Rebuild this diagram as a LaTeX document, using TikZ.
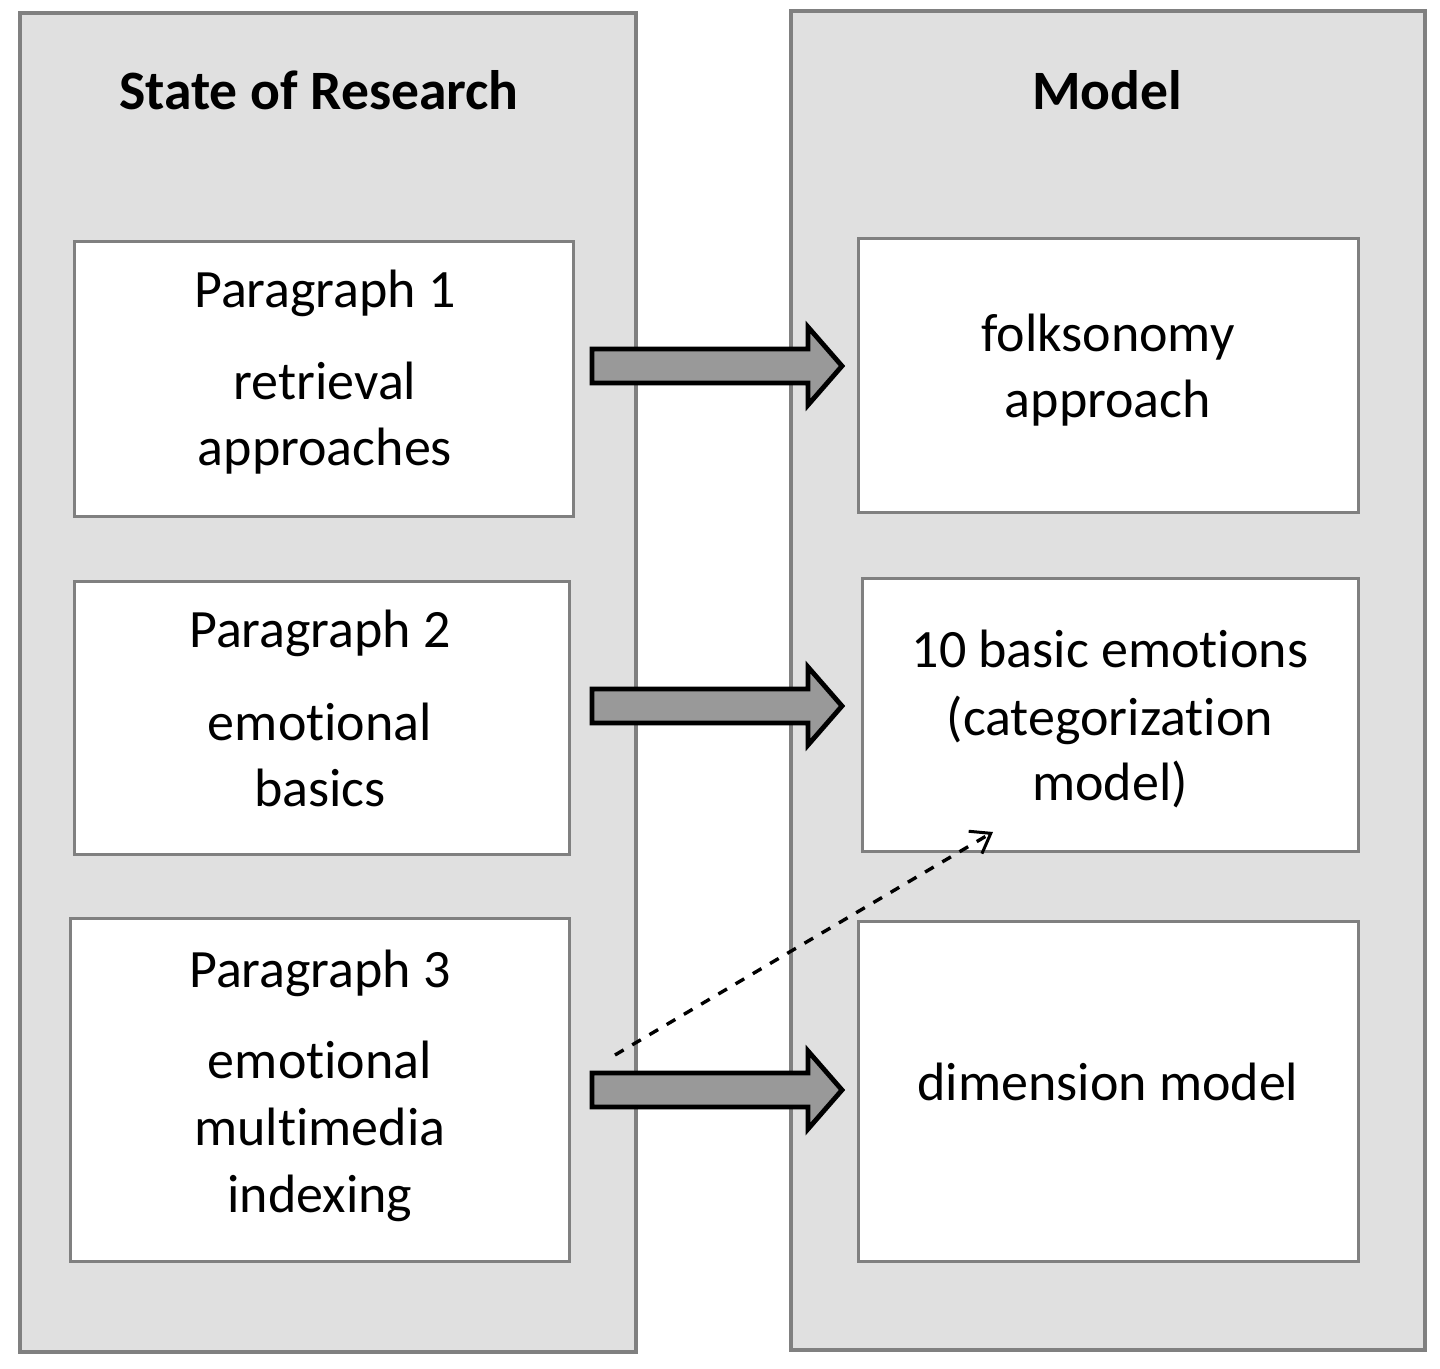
\documentclass[tikz,border=0pt]{standalone}
\usepackage{fontspec}
\setmainfont[RawFeature={-liga;-clig;-calt;-dlig}]{Carlito}
\usetikzlibrary{arrows.meta,calc}
\definecolor{panelfill}{HTML}{E0E0E0}
\definecolor{edgegray}{HTML}{808080}
\definecolor{arrowfill}{HTML}{999999}
\newcommand{\nl}{\kern0pt}
\tikzset{
  panel/.style={draw=edgegray,line width=2pt,fill=panelfill},
  boxx/.style={draw=edgegray,line width=1.5pt,fill=white},
  txt/.style={anchor=base,inner sep=0pt,font=\fontsize{27}{32}\selectfont},
  ttl/.style={anchor=base,inner sep=0pt,font=\fontsize{27.8}{32}\selectfont\bfseries},
  blockarrow/.style={draw=black,line width=2.4pt,fill=arrowfill,line join=miter},
  dasharrow/.style={draw=black,line width=1.7pt,dash pattern=on 5pt off 5pt,-{Straight Barb[length=9pt,width=13pt,line width=1.5pt]}}
}
\newcommand{\blockarr}[1]{%
  \draw[blockarrow] ($(#1)+(-125,-17)$) -- ($(#1)+(91,-17)$) -- ($(#1)+(91,-39)$) -- ($(#1)+(125,0)$)
    -- ($(#1)+(91,39)$) -- ($(#1)+(91,17)$) -- ($(#1)+(-125,17)$) -- cycle;}
\begin{document}
\begin{tikzpicture}[x=0.5pt,y=-0.5pt]
\useasboundingbox (0,0) rectangle (1440,1369);
% panels
\draw[panel] (20,13) rectangle (636,1352);
\draw[panel] (791,11) rectangle (1425,1350);
\node[ttl] (t1) at (319,110) {State of Research};
\node[ttl] (t2) at (1107,110) {Model};
% left boxes
\draw[boxx] (74,242) rectangle (573,516);
\draw[boxx] (74,581) rectangle (569,854);
\draw[boxx] (70,918) rectangle (569,1261);
% right boxes
\draw[boxx] (858,239) rectangle (1358,512);
\draw[boxx] (862,578) rectangle (1358,851);
\draw[boxx] (858,921) rectangle (1358,1261);
% texts
\node[txt] (a1) at (325,308) {Paragraph 1};
\node[txt] (a2) at (325,400) {retrieval};
\node[txt] (a3) at (325,466) {approaches};
\node[txt] (b1) at (320,647) {Paragraph 2};
\node[txt] (b2) at (320,740) {emot\nl ional};
\node[txt] (b3) at (320,806) {basics};
\node[txt] (c1) at (320,987) {Paragraph 3};
\node[txt] (c2) at (320,1078) {emot\nl ional};
\node[txt] (c3) at (320,1145) {mult\nl imedia};
\node[txt] (c4) at (320,1212) {indexing};
\node[txt] (d1) at (1108,352) {folksonomy};
\node[txt] (d2) at (1108,418) {approach};
\node[txt] (e1) at (1110,667) {10 basic emot\nl ions};
\node[txt] (e2) at (1110,735) {(categorizat\nl ion};
\node[txt] (e3) at (1110,800) {model)};
\node[txt] (f1) at (1108,1100) {dimension model};
% block arrows
\coordinate (ar1) at (717,366);
\coordinate (ar2) at (717,706);
\coordinate (ar3) at (717,1090);
\blockarr{ar1}
\blockarr{ar2}
\blockarr{ar3}
% dashed arrow
\coordinate (ds) at (615,1055);
\coordinate (de) at (993,832);
\draw[dasharrow] (ds) -- (de);
\end{tikzpicture}
\end{document}
